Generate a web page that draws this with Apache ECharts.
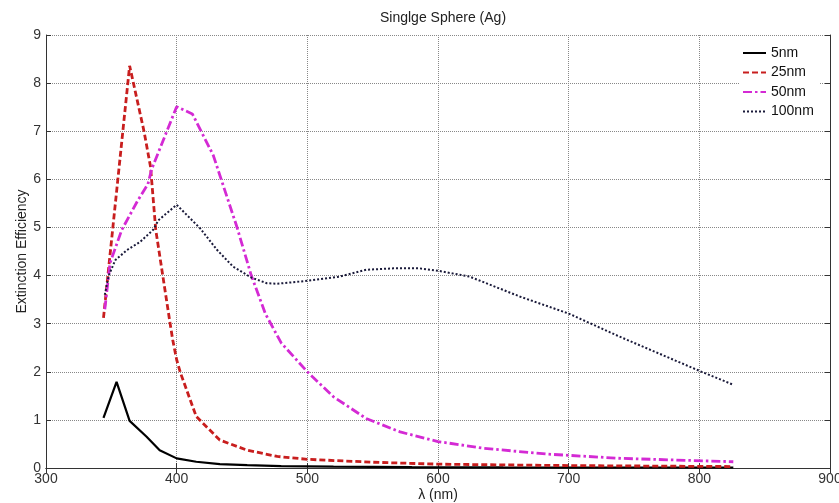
<!DOCTYPE html>
<html>
<head>
<meta charset="utf-8">
<script src="https://cdn.jsdelivr.net/npm/echarts@6/dist/echarts.min.js"></script>
<style>
  html, body { margin: 0; padding: 0; background: #fff; }
  #chart { width: 839px; height: 503px; }
</style>
</head>
<body>
<div id="chart"></div>
<script>
// values (wavelength nm / extinction efficiency)
var wl5 = [344, 354, 364, 377, 387, 400, 415, 433, 454, 480, 520, 580, 650, 750, 826];
var ext5 = [1.04, 1.79, 0.98, 0.65, 0.37, 0.2, 0.13, 0.08, 0.06, 0.04, 0.03, 0.02, 0.015, 0.01, 0.01];

var wl25 = [344, 364, 375, 380, 384, 395, 397, 400, 403, 415, 433, 454, 477, 500, 550, 600, 700, 826];
var ext25 = [3.12, 8.36, 7.0, 6.26, 4.95, 3.0, 2.66, 2.25, 1.97, 1.07, 0.58, 0.37, 0.24, 0.18, 0.12, 0.08, 0.05, 0.03];

var wl50 = [345, 349, 358, 370, 378, 381, 400, 412, 428, 446, 457, 468, 480, 500, 520, 545, 571, 600, 635, 683, 740, 826];
var ext50 = [3.3, 4.26, 4.95, 5.55, 5.9, 6.22, 7.51, 7.36, 6.5, 5.02, 4.01, 3.2, 2.6, 2.0, 1.48, 1.03, 0.75, 0.55, 0.41, 0.29, 0.2, 0.13];

var wl100 = [345, 348, 353, 362, 372, 382, 386, 400, 418, 431, 443, 457, 469, 477, 500, 525, 545, 566, 586, 600, 624, 663, 700, 739, 800, 826];
var ext100 = [3.6, 4.0, 4.32, 4.53, 4.7, 4.95, 5.15, 5.47, 4.98, 4.53, 4.19, 3.96, 3.84, 3.83, 3.89, 3.98, 4.12, 4.15, 4.15, 4.1, 3.98, 3.56, 3.21, 2.73, 2.02, 1.73];

var names = ['5nm', '25nm', '50nm', '100nm'];

function zip(xs, ys) {
  return xs.map(function(x, i) { return [x, ys[i]]; });
}

var FONT = 'Arial, "Liberation Sans", sans-serif';
var chart = echarts.init(document.getElementById('chart'));

var boxAxis = { show: true, lineStyle: { color: '#333', width: 1 } };
var tickIn = { show: true, inside: true, length: 5, lineStyle: { color: '#333' } };
var grid = { show: true, lineStyle: { type: 'dotted', color: '#888', width: 1 } };

chart.setOption({
  animation: false,
  backgroundColor: '#fff',
  title: {
    text: 'Singlge Sphere (Ag)',
    left: 438, top: 6, textAlign: 'center',
    textStyle: { fontFamily: FONT, fontSize: 14, fontWeight: 'normal', color: '#222' }
  },
  legend: {
    data: names,
    orient: 'vertical',
    left: 740, top: 44,
    padding: [2, 6, 2, 2],
    backgroundColor: '#fff',
    itemWidth: 23, itemHeight: 14, itemGap: 5.5,
    itemStyle: { opacity: 0 },
    textStyle: { fontFamily: FONT, fontSize: 14, color: '#111' }
  },
  grid: { left: 46, right: 9, top: 35, bottom: 35, outerBoundsMode: 'none' },
  xAxis: [{
    type: 'value', min: 300, max: 900, interval: 100,
    name: 'λ (nm)', nameLocation: 'middle', nameGap: 20, nameMoveOverlap: false,
    nameTextStyle: { fontFamily: FONT, fontSize: 14, color: '#222' },
    axisLine: boxAxis, axisTick: tickIn, splitLine: grid,
    axisLabel: { fontFamily: FONT, fontSize: 14, color: '#333', margin: 4 }
  }, {
    type: 'value', min: 300, max: 900, interval: 100, position: 'top',
    axisLine: boxAxis, axisTick: tickIn, axisLabel: { show: false }, splitLine: { show: false }
  }],
  yAxis: [{
    type: 'value', min: 0, max: 9, interval: 1,
    name: 'Extinction Efficiency', nameLocation: 'middle', nameGap: 17, nameMoveOverlap: false,
    nameTextStyle: { fontFamily: FONT, fontSize: 14, color: '#222' },
    axisLine: boxAxis, axisTick: tickIn, splitLine: grid,
    axisLabel: { fontFamily: FONT, fontSize: 14, color: '#333', margin: 5 }
  }, {
    type: 'value', min: 0, max: 9, interval: 1, position: 'right',
    axisLine: boxAxis, axisTick: tickIn, axisLabel: { show: false }, splitLine: { show: false }
  }],
  series: [{
    name: names[0], type: 'line', symbol: 'none', data: zip(wl5, ext5),
    lineStyle: { color: '#000', width: 2.2, type: 'solid' }, itemStyle: { color: '#000' }
  }, {
    name: names[1], type: 'line', symbol: 'none', data: zip(wl25, ext25),
    lineStyle: { color: '#c81e1e', width: 2.8, type: [6, 3] }, itemStyle: { color: '#c81e1e' }
  }, {
    name: names[2], type: 'line', symbol: 'none', data: zip(wl50, ext50),
    lineStyle: { color: '#d42ad4', width: 2.8, type: [9, 3, 2.5, 3] }, itemStyle: { color: '#d42ad4' }
  }, {
    name: names[3], type: 'line', symbol: 'none', data: zip(wl100, ext100),
    lineStyle: { color: '#1a1a3a', width: 2, type: [2, 2] }, itemStyle: { color: '#1a1a3a' }
  }]
});
</script>
</body>
</html>
